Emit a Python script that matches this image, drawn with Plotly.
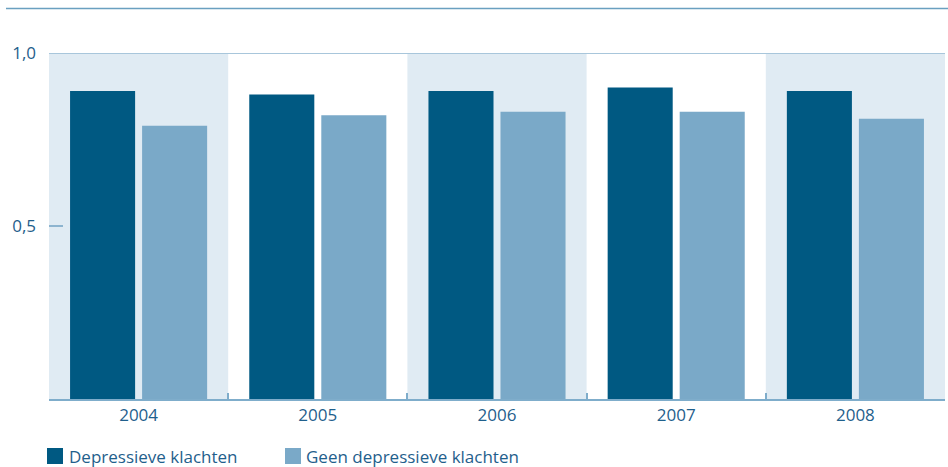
import plotly.graph_objects as go

years = ["2004", "2005", "2006", "2007", "2008"]
depressief = [0.89, 0.88, 0.89, 0.90, 0.89]
geen_depressief = [0.79, 0.82, 0.83, 0.83, 0.81]
y_tickvals = [0.5, 1.0]
y_ticktext = ["0,5", "1,0"]
series_names = ["Depressieve klachten", "Geen depressieve klachten"]

DARK = "rgb(0,89,130)"
LIGHT = "rgb(122,169,200)"
BAND = "rgb(224,235,243)"
TEXT = "rgb(31,96,140)"
FONT = "Open Sans"
FS = 17

fig = go.Figure()
fig.add_trace(go.Bar(x=years, y=depressief, name=series_names[0],
                     marker=dict(color=DARK, line=dict(width=0)), showlegend=False))
fig.add_trace(go.Bar(x=years, y=geen_depressief, name=series_names[1],
                     marker=dict(color=LIGHT, line=dict(width=0)), showlegend=False))

shapes = []
for i in range(0, len(years), 2):
    shapes.append(dict(type="rect", xref="x", yref="y", x0=i - 0.5, x1=i + 0.5,
                       y0=0, y1=1, fillcolor=BAND, line=dict(width=0), layer="below"))
# gridline at 1,0
shapes.append(dict(type="line", xref="paper", yref="y", x0=0, x1=1, y0=1, y1=1,
                   line=dict(color="rgb(168,198,219)", width=2), layer="above"))
# top rule
shapes.append(dict(type="line", xref="paper", yref="paper", x0=-0.048, x1=1.004,
                   y0=1.1286, y1=1.1286, line=dict(color="rgb(106,160,192)", width=1.5)))

# manual legend (px -> paper)
def px_x(px):
    return (px - 49) / 896.0

def px_y(py):
    return (399 - py) / 346.0

annotations = []
legend_items = [(47, 69, DARK, series_names[0]), (285, 306, LIGHT, series_names[1])]
for sq_x, txt_x, col, name in legend_items:
    shapes.append(dict(type="rect", xref="paper", yref="paper",
                       x0=px_x(sq_x), x1=px_x(sq_x + 16), y0=px_y(464), y1=px_y(448),
                       fillcolor=col, line=dict(width=0)))
    annotations.append(dict(xref="paper", yref="paper", x=px_x(txt_x), y=px_y(456),
                            xanchor="left", yanchor="middle", text=name, showarrow=False,
                            xshift=-2,
                            font=dict(family=FONT, size=FS, color=TEXT)))

fig.update_layout(
    width=948, height=467,
    margin=dict(l=49, r=3, t=53, b=68),
    paper_bgcolor="white", plot_bgcolor="white",
    barmode="group", bargap=0.196, bargroupgap=0.097,
    shapes=shapes, annotations=annotations,
    font=dict(family=FONT, size=FS, color=TEXT),
    showlegend=False,
    xaxis=dict(type="category", showgrid=False, showline=True,
               linecolor="rgb(127,173,203)", linewidth=2,
               ticks="inside", tickson="boundaries", ticklen=6,
               tickcolor="rgb(127,173,203)", tickwidth=1.5,
               tickfont=dict(family=FONT, size=FS, color=TEXT),
               range=[-0.5, 4.5], zeroline=False),
    yaxis=dict(range=[0, 1], showgrid=False, showline=False, zeroline=False,
               tickvals=y_tickvals, ticktext=y_ticktext,
               ticks="inside", ticklen=14, tickcolor="rgb(141,180,207)", tickwidth=1.5,
               tickfont=dict(family=FONT, size=FS, color=TEXT),
               ticklabelstandoff=12),
)

fig.write_html("out.html", config={"displayModeBar": False},
               post_script="document.body.style.margin='0px';document.body.style.overflow='hidden';")
